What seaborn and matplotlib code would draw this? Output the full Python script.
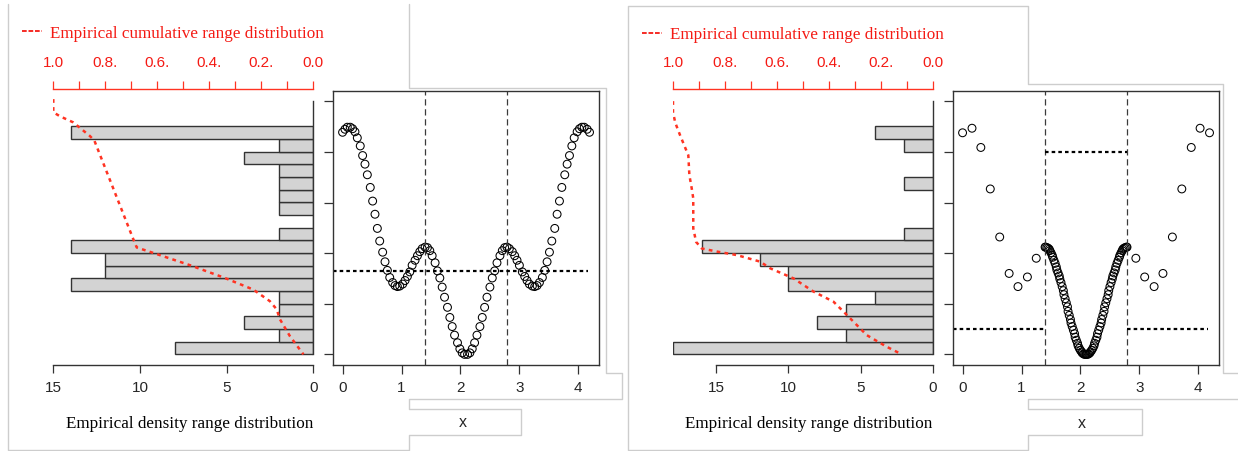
import numpy as np
import matplotlib
matplotlib.use("Agg")
import matplotlib.pyplot as plt
from matplotlib.lines import Line2D
import seaborn as sns

# ---------------- data ----------------
# histogram bin edges, bottom to top (same grid for both panels)
bin_edges = [0.00, 0.25, 0.50, 0.75, 1.00, 1.25, 1.50, 1.75, 2.00, 2.25,
             2.50, 2.75, 3.00, 3.25, 3.50, 3.75, 4.00, 4.25, 4.50]
# bar lengths per bin, bottom to top
counts_a = [8, 2, 4, 2, 2, 14, 12, 12, 14, 2, 0, 2, 2, 2, 2, 4, 2, 14]
counts_b = [18, 6, 8, 6, 4, 10, 10, 12, 16, 2, 0, 0, 0, 2, 0, 0, 2, 4]

# empirical cumulative curve (cumulative share, level)
cum_a = [1.000, 1.000, 0.974, 0.923, 0.859, 0.842, 0.692, 0.679, 0.602,
         0.474, 0.346, 0.231, 0.167, 0.141, 0.128, 0.090, 0.038]
lev_a = [5.04, 4.78, 4.70, 4.58, 4.31, 4.22, 2.27, 2.11, 1.98,
         1.76, 1.52, 1.28, 1.05, 0.89, 0.69, 0.36, 0.00]
cum_b = [1.000, 1.000, 0.991, 0.973, 0.953, 0.941, 0.937, 0.928, 0.922,
         0.922, 0.911, 0.889, 0.831, 0.754, 0.664, 0.626, 0.536, 0.459,
         0.382, 0.331, 0.254, 0.177, 0.119]
lev_b = [5.00, 4.78, 4.57, 4.33, 4.08, 3.93, 3.54, 3.28, 3.08,
         2.49, 2.22, 2.09, 2.03, 1.96, 1.83, 1.70, 1.50, 1.24,
         1.04, 0.78, 0.38, 0.15, 0.00]

# left panel sample (evenly spaced)
x_a = [0.00, 0.04, 0.08, 0.13, 0.17, 0.21, 0.25, 0.30, 0.34, 0.38,
       0.42, 0.47, 0.51, 0.55, 0.59, 0.63, 0.68, 0.72, 0.76, 0.80,
       0.85, 0.89, 0.93, 0.97, 1.02, 1.06, 1.10, 1.14, 1.18, 1.23,
       1.27, 1.31, 1.35, 1.40, 1.44, 1.48, 1.52, 1.57, 1.61, 1.65,
       1.69, 1.73, 1.78, 1.82, 1.86, 1.90, 1.95, 1.99, 2.03, 2.07,
       2.12, 2.16, 2.20, 2.24, 2.28, 2.33, 2.37, 2.41, 2.45, 2.50,
       2.54, 2.58, 2.62, 2.67, 2.71, 2.75, 2.79, 2.83, 2.88, 2.92,
       2.96, 3.00, 3.05, 3.09, 3.13, 3.17, 3.22, 3.26, 3.30, 3.34,
       3.39, 3.43, 3.47, 3.51, 3.55, 3.60, 3.64, 3.68, 3.72, 3.77,
       3.81, 3.85, 3.89, 3.93, 3.98, 4.02, 4.06, 4.10, 4.15, 4.19]
y_a = [4.39, 4.45, 4.49, 4.49, 4.46, 4.40, 4.28, 4.12, 3.93, 3.76,
       3.55, 3.30, 3.03, 2.77, 2.49, 2.24, 2.02, 1.83, 1.66, 1.52,
       1.42, 1.36, 1.34, 1.35, 1.39, 1.46, 1.54, 1.63, 1.76, 1.86,
       1.95, 2.03, 2.09, 2.12, 2.11, 2.05, 1.95, 1.81, 1.65, 1.51,
       1.33, 1.13, 0.93, 0.73, 0.55, 0.38, 0.23, 0.11, 0.03, 0.00,
       0.00, 0.03, 0.11, 0.23, 0.38, 0.55, 0.73, 0.93, 1.13, 1.33,
       1.51, 1.65, 1.81, 1.95, 2.05, 2.11, 2.12, 2.09, 2.03, 1.95,
       1.86, 1.76, 1.63, 1.54, 1.46, 1.39, 1.35, 1.34, 1.36, 1.42,
       1.52, 1.66, 1.83, 2.02, 2.24, 2.49, 2.77, 3.03, 3.30, 3.55,
       3.76, 3.93, 4.12, 4.28, 4.40, 4.46, 4.49, 4.49, 4.45, 4.39]

# right panel sample: sparse outside the window, dense inside it
x_b = [0.00, 0.16, 0.31, 0.47, 0.63, 0.79, 0.94, 1.10, 1.25,
       1.40, 1.41, 1.43, 1.45, 1.47, 1.48, 1.50, 1.52, 1.53, 1.55,
       1.57, 1.59, 1.60, 1.62, 1.64, 1.65, 1.67, 1.69, 1.71, 1.72,
       1.74, 1.76, 1.78, 1.79, 1.81, 1.83, 1.84, 1.86, 1.88, 1.90,
       1.91, 1.93, 1.95, 1.96, 1.98, 2.00, 2.02, 2.03, 2.05, 2.07, 2.09,
       2.10, 2.12, 2.14, 2.16, 2.17, 2.19, 2.21, 2.23, 2.24, 2.26,
       2.28, 2.29, 2.31, 2.33, 2.35, 2.36, 2.38, 2.40, 2.41, 2.43,
       2.45, 2.47, 2.48, 2.50, 2.52, 2.54, 2.55, 2.57, 2.59, 2.60,
       2.62, 2.64, 2.66, 2.67, 2.69, 2.71, 2.72, 2.74, 2.76, 2.78, 2.79,
       2.94, 3.09, 3.25, 3.40, 3.56, 3.72, 3.88, 4.03, 4.19]
y_b = [4.38, 4.47, 4.09, 3.27, 2.32, 1.60, 1.34, 1.53, 1.90,
       2.12, 2.12, 2.11, 2.10, 2.08, 2.05, 2.01, 1.96, 1.92, 1.86,
       1.80, 1.73, 1.67, 1.61, 1.55, 1.49, 1.42, 1.34, 1.26, 1.18,
       1.10, 1.02, 0.94, 0.85, 0.77, 0.69, 0.62, 0.55, 0.48, 0.41,
       0.34, 0.28, 0.22, 0.17, 0.12, 0.08, 0.05, 0.03, 0.01, 0.00, 0.00,
       0.00, 0.00, 0.01, 0.03, 0.05, 0.08, 0.12, 0.17, 0.22, 0.28,
       0.34, 0.41, 0.48, 0.55, 0.62, 0.69, 0.77, 0.85, 0.94, 1.02,
       1.10, 1.18, 1.26, 1.34, 1.42, 1.49, 1.55, 1.61, 1.67, 1.73,
       1.80, 1.86, 1.92, 1.96, 2.01, 2.05, 2.08, 2.10, 2.11, 2.12, 2.12,
       1.90, 1.53, 1.34, 1.60, 2.32, 3.27, 4.09, 4.47, 4.38]

window = [1.40, 2.79]          # dashed vertical markers
level_a = 1.65                 # dotted threshold, left panel
level_b_in, level_b_out = 4.0, 0.5
hist_max = [15, 18]
count_ticks = [0, 5, 10, 15]
count_ticklabels = ["0", "5", "10", "15"]
cum_ticks = [round(0.1 * k, 1) for k in range(11)]
cum_ticklabels = {1.0: "1.0", 0.8: "0.8.", 0.6: "0.6.", 0.4: "0.4.", 0.2: "0.2.", 0.0: "0.0"}
legend_text = "Empirical cumulative range distribution"
hist_label = "Empirical density range distribution"
x_label = "x"

# ---------------- style ----------------
sns.set_style("white")
plt.rcParams["font.family"] = ["Liberation Sans", "DejaVu Sans"]
SERIF = ["Liberation Serif", "DejaVu Serif"]
RED_TEXT = "#f41a14"
RED_LINE = "#ff3322"
DARK = "#333333"
FRAME = "#cdcdcd"
TICK_FS = 11

W, H = 1238, 452
fig = plt.figure(figsize=(W / 100, H / 100), dpi=100)


def axes_px(x0, y0, x1, y1):
    return fig.add_axes([x0 / W, 1 - y1 / H, (x1 - x0) / W, (y1 - y0) / H])


def frame_line(pts):
    xs = [p[0] / W for p in pts]
    ys = [1 - p[1] / H for p in pts]
    fig.add_artist(Line2D(xs, ys, transform=fig.transFigure, color=FRAME, lw=1.0))


mids = [(a + b) / 2 for a, b in zip(bin_edges[:-1], bin_edges[1:])]
YLIM = (-0.2, 5.2)
XLIM = (-0.1676, 4.356)


def hist_panel(x0, x1, counts, cmax, cum, lev, legend_x, legend_y):
    ax = axes_px(x0, 92, x1, 365.5)
    sns.histplot(y=mids, weights=counts, bins=bin_edges, ax=ax, stat="count",
                 color="#d3d3d3", edgecolor=DARK, linewidth=1.0, alpha=1.0)
    ax.set_xlim(cmax, 0)
    ax.set_ylim(*YLIM)
    ax.set_xlabel("")
    ax.set_ylabel("")
    ax.set_yticks([])
    ax.set_xticks(count_ticks)
    ax.set_xticklabels(count_ticklabels)
    for s in ("top", "left"):
        ax.spines[s].set_visible(False)
    ax.spines["bottom"].set_bounds(0, 15)
    ax.spines["right"].set_bounds(0, 5)
    for s in ("bottom", "right"):
        ax.spines[s].set_color(DARK)
        ax.spines[s].set_linewidth(1.0)
    ax.tick_params(axis="x", direction="out", length=6, width=0.9, color=DARK,
                   pad=5, labelsize=TICK_FS, bottom=True)

    axc = ax.twiny()
    axc.set_xlim(1, 0)
    sns.lineplot(x=cum, y=lev, sort=False, estimator=None, ax=axc, color=RED_LINE,
                 linestyle=(0, (1.5, 1.7)), linewidth=1.8)
    axc.set_xlabel("")
    axc.set_ylabel("")
    for s in ("bottom", "left", "right"):
        axc.spines[s].set_visible(False)
    axc.spines["top"].set_bounds(0, 1)
    axc.spines["top"].set_color(RED_LINE)
    axc.spines["top"].set_linewidth(1.0)
    axc.spines["top"].set_position(("outward", 1.5))
    axc.set_xticks(cum_ticks)
    axc.set_xticklabels([cum_ticklabels.get(t, "") for t in cum_ticks])
    axc.tick_params(axis="x", direction="out", length=6, width=0.9, color=RED_LINE,
                    labelcolor=RED_TEXT, pad=8, labelsize=TICK_FS)

    # legend line and caption
    fig.add_artist(Line2D([legend_x / W, (legend_x + 20) / W],
                          [1 - (legend_y - 5.5) / H] * 2, transform=fig.transFigure,
                          color=RED_TEXT, lw=1.3, linestyle=(0, (2.6, 1.0))))
    fig.text((legend_x + 28) / W, 1 - legend_y / H, legend_text, color=RED_TEXT,
             family=SERIF, fontsize=12.3, ha="left", va="baseline")
    fig.text((x0 + 12 + x1) / 2 / W, 1 - 428.5 / H, hist_label, color="black",
             family=SERIF, fontsize=12.3, ha="center", va="baseline")
    return ax


def scatter_panel(x0, x1, xs, ys):
    ax = axes_px(x0, 92.3, x1, 365.5)
    sns.scatterplot(x=xs, y=ys, ax=ax, marker="o", s=32, facecolor="none",
                    edgecolor="black", linewidth=0.75)
    ax.set_xlim(*XLIM)
    ax.set_ylim(*YLIM)
    ax.set_xlabel("")
    ax.set_ylabel("")
    ax.set_xticks([0, 1, 2, 3, 4])
    ax.set_yticks([0, 1, 2, 3, 4, 5])
    ax.set_yticklabels([])
    for s in ax.spines.values():
        s.set_visible(True)
        s.set_color(DARK)
        s.set_linewidth(1.0)
    ax.tick_params(axis="both", direction="out", length=6.5, width=0.9, color=DARK,
                   labelsize=TICK_FS, bottom=True, left=True, pad=5)
    for xv in window:
        ax.axvline(xv, color="#3a3a3a", lw=0.9, linestyle=(0, (5, 3)))
    return ax


# left pair
hist_panel(53.3, 313.3, counts_a, hist_max[0], cum_a, lev_a, 22, 37.5)
sa = scatter_panel(332.7, 599.3, x_a, y_a)
sa.plot([XLIM[0], 4.16], [level_a, level_a], color="black", lw=1.6,
        linestyle=(0, (1.6, 1.4)))
fig.text(462.7 / W, 1 - 423 / H, x_label, fontsize=11.5, ha="center", va="center")

# right pair
hist_panel(673.0, 932.7, counts_b, hist_max[1], cum_b, lev_b, 641.7, 39)
sb = scatter_panel(952.7, 1219.3, x_b, y_b)
sb.plot(window, [level_b_in, level_b_in], color="black", lw=1.6,
        linestyle=(0, (1.6, 1.4)))
sb.plot([XLIM[0], window[0]], [level_b_out, level_b_out], color="black", lw=1.6,
        linestyle=(0, (1.6, 1.4)))
sb.plot([window[1], 4.16], [level_b_out, level_b_out], color="black", lw=1.6,
        linestyle=(0, (1.6, 1.4)))
fig.text(1081.7 / W, 1 - 424 / H, x_label, fontsize=11.5, ha="center", va="center")

# page outlines around the two figure blocks
frame_line([(8, 5), (8, 451), (409, 451), (409, 436), (521, 436), (521, 410),
            (409, 410), (409, 400), (622, 400), (622, 374), (606, 374),
            (606, 89), (409, 89), (409, 5)])
frame_line([(1238, 374), (1223, 374), (1223, 85), (1028, 85), (1028, 7),
            (628, 7), (628, 451), (1028, 451), (1028, 436), (1142, 436),
            (1142, 410), (1028, 410), (1028, 400), (1238, 400)])

fig.savefig("out.png", dpi=100)
